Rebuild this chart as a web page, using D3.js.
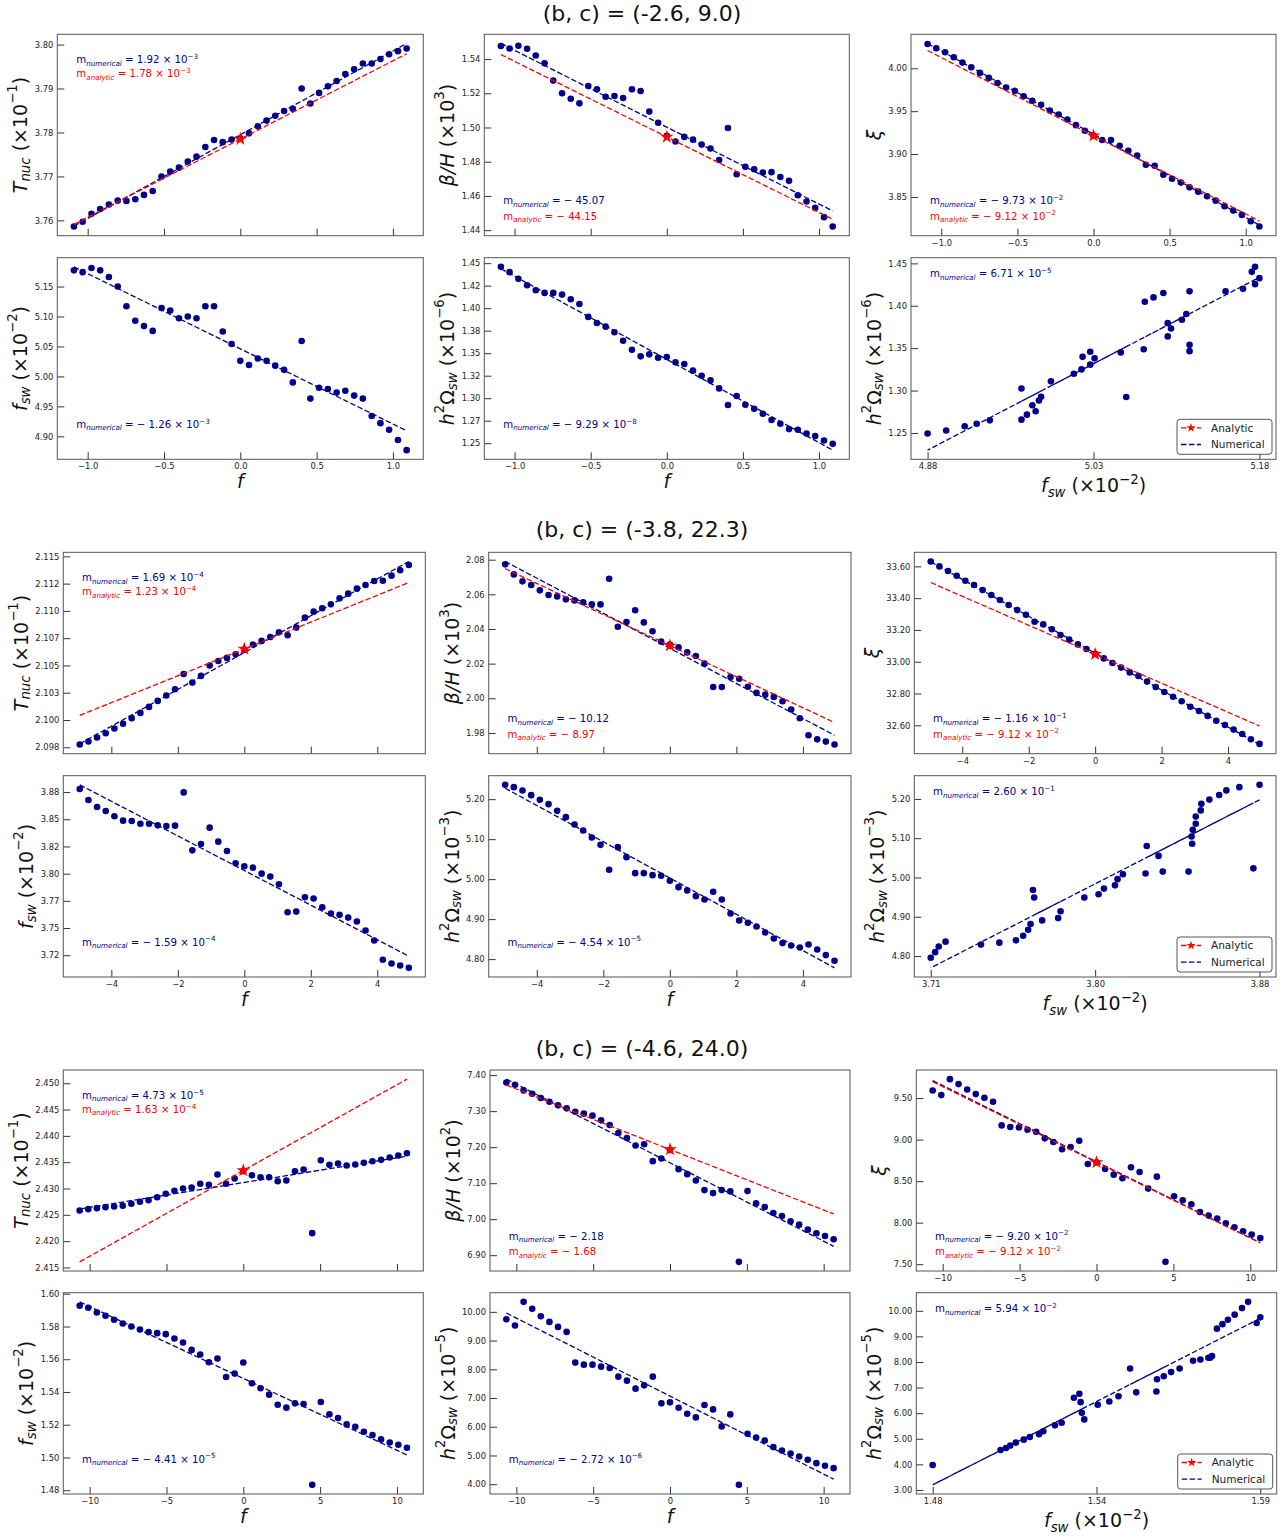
<!DOCTYPE html>
<html>
<head>
<meta charset="utf-8">
<script src="https://cdn.jsdelivr.net/npm/d3@7"></script>
<style>
  body { margin: 0; background: #fff; }
  svg { display: block; font-family: "DejaVu Sans", sans-serif; }
</style>
</head>
<body>
<svg id="chart" width="1286" height="1537"></svg>
<script>
// ---------- group 1 : (b, c) = (-2.6, 9.0) ----------
const g1Title = "(b, c) = (-2.6, 9.0)";
const g1F = [-1.090,-1.033,-0.975,-0.918,-0.861,-0.803,-0.746,-0.688,-0.631,-0.574,-0.516,-0.459,-0.402,-0.344,-0.287,-0.229,-0.172,-0.115,-0.057,0,0.057,0.115,0.172,0.229,0.287,0.344,0.402,0.459,0.516,0.574,0.631,0.688,0.746,0.803,0.861,0.918,0.975,1.033,1.090];
const g1Tnuc = [3.7586,3.7597,3.7615,3.7626,3.7636,3.7645,3.7644,3.7648,3.7658,3.7667,3.7700,3.7711,3.7720,3.7734,3.7745,3.7767,3.7783,3.7778,3.7784,3.7787,3.7798,3.7814,3.7827,3.7838,3.7849,3.7854,3.7900,3.7866,3.7890,3.7905,3.7917,3.7933,3.7944,3.7957,3.7957,3.7967,3.7978,3.7985,3.7991];
const g1Beta = [1.5476,1.5462,1.5478,1.5460,1.5421,1.5375,1.5274,1.5200,1.5168,1.5141,1.5242,1.5223,1.5180,1.5184,1.5172,1.5223,1.5213,1.5093,1.5028,1.4952,1.4918,1.4945,1.4929,1.4900,1.4877,1.4810,1.4997,1.4727,1.4770,1.4756,1.4737,1.4739,1.4711,1.4688,1.4604,1.4567,1.4530,1.4476,1.4421];
const g1Xi = [4.0283,4.0233,4.0186,4.0128,4.0066,4.0012,3.9946,3.9888,3.9829,3.9775,3.9736,3.9674,3.9620,3.9574,3.9508,3.9461,3.9403,3.9337,3.9271,3.9217,3.9163,3.9163,3.9097,3.9039,3.8984,3.8876,3.8864,3.8760,3.8713,3.8667,3.8612,3.8562,3.8508,3.8457,3.8391,3.8341,3.8291,3.8217,3.8155];
const g1Fsw = [5.177,5.174,5.181,5.177,5.166,5.150,5.117,5.093,5.084,5.076,5.114,5.110,5.097,5.100,5.097,5.117,5.117,5.075,5.054,5.026,5.019,5.030,5.026,5.018,5.011,4.990,5.059,4.963,4.981,4.979,4.973,4.976,4.968,4.963,4.934,4.922,4.911,4.894,4.877];
const g1Omega = [1.4459,1.4400,1.4326,1.4255,1.4200,1.4170,1.4170,1.4151,1.4099,1.4047,1.3903,1.3836,1.3795,1.3732,1.3639,1.3539,1.3465,1.3487,1.3450,1.3458,1.3398,1.3380,1.3306,1.3250,1.3198,1.3109,1.2924,1.3024,1.2927,1.2883,1.2827,1.2757,1.2716,1.2657,1.2649,1.2608,1.2579,1.2530,1.2493];
const g1Star = [3.7785, 1.4945, 3.9213];              // analytic values at f = 0 (Tnuc, beta/H, xi)
const g1NumSlope = [1.92e-3, -45.07, -9.73e-2, -1.26e-3, -9.29e-8, 6.71e-5];
const g1AnaSlope = [1.78e-3, -44.15, -9.12e-2];
const g1Exp = [-1, 3, 0, -2, -6];                       // axis multipliers: Tnuc, beta/H, xi, fsw, h2Omega
const g1FTicks = [-1, -0.5, 0, 0.5, 1];
const g1FLabels = ["−1.0", "−0.5", "0.0", "0.5", "1.0"];
const g1YTicks = [
  [3.76, 3.77, 3.78, 3.79, 3.80],
  [1.44, 1.46, 1.48, 1.50, 1.52, 1.54],
  [3.85, 3.90, 3.95, 4.00],
  [4.90, 4.95, 5.00, 5.05, 5.10, 5.15],
  [1.25, 1.275, 1.30, 1.325, 1.35, 1.375, 1.40, 1.425, 1.45],
  [1.25, 1.30, 1.35, 1.40, 1.45]
];
const g1YLabels = [
  ["3.76", "3.77", "3.78", "3.79", "3.80"],
  ["1.44", "1.46", "1.48", "1.50", "1.52", "1.54"],
  ["3.85", "3.90", "3.95", "4.00"],
  ["4.90", "4.95", "5.00", "5.05", "5.10", "5.15"],
  ["1.25", "1.27", "1.30", "1.32", "1.35", "1.38", "1.40", "1.42", "1.45"],
  ["1.25", "1.30", "1.35", "1.40", "1.45"]
];

// ---------- group 2 : (b, c) = (-3.8, 22.3) ----------
const g2Title = "(b, c) = (-3.8, 22.3)";
const g2F = [-4.950,-4.689,-4.429,-4.168,-3.908,-3.647,-3.387,-3.126,-2.866,-2.605,-2.345,-2.084,-1.824,-1.563,-1.303,-1.042,-0.782,-0.521,-0.261,0,0.261,0.521,0.782,1.042,1.303,1.563,1.824,2.084,2.345,2.605,2.866,3.126,3.387,3.647,3.908,4.168,4.429,4.689,4.950];
const g2Tnuc = [2.09775,2.09803,2.09839,2.09879,2.09922,2.09965,2.10017,2.10065,2.10120,2.10175,2.10224,2.10282,2.10422,2.10343,2.10404,2.10499,2.10541,2.10569,2.10603,2.10645,2.10691,2.10725,2.10761,2.10804,2.10777,2.10847,2.10938,2.10993,2.11024,2.11060,2.11115,2.11158,2.11204,2.11237,2.11274,2.11277,2.11323,2.11372,2.11421];
const g2Beta = [2.0773,2.0715,2.0675,2.0654,2.0623,2.0596,2.0588,2.0571,2.0565,2.0554,2.0542,2.0542,2.0690,2.0413,2.0440,2.0508,2.0438,2.0387,2.0327,2.0310,2.0294,2.0265,2.0244,2.0200,2.0065,2.0065,2.0123,2.0113,2.0067,2.0031,2.0021,2.0008,1.9983,1.9935,1.9885,1.9787,1.9763,1.9750,1.9733];
const g2Xi = [33.631,33.600,33.571,33.541,33.510,33.483,33.451,33.420,33.388,33.357,33.325,33.296,33.252,33.235,33.204,33.168,33.139,33.109,33.080,33.050,33.021,32.992,32.963,32.933,32.910,32.875,32.841,32.810,32.780,32.751,32.717,32.690,32.659,32.629,32.602,32.573,32.545,32.512,32.483];
const g2Fsw = [3.8778,3.8677,3.8612,3.8576,3.8527,3.8487,3.8484,3.8459,3.8459,3.8444,3.8438,3.8441,3.8747,3.8214,3.8273,3.8423,3.8294,3.8208,3.8095,3.8068,3.8055,3.8000,3.7973,3.7902,3.7645,3.7651,3.7783,3.7771,3.7691,3.7633,3.7621,3.7596,3.7560,3.7477,3.7385,3.7208,3.7174,3.7156,3.7134];
const g2Omega = [5.2358,5.2300,5.2217,5.2100,5.1983,5.1875,5.1708,5.1550,5.1367,5.1217,5.1042,5.0858,5.0233,5.0800,5.0550,5.0150,5.0150,5.0100,5.0083,4.9958,4.9800,4.9717,4.9575,4.9492,4.9683,4.9492,4.9142,4.8967,4.8908,4.8817,4.8667,4.8517,4.8400,4.8342,4.8292,4.8367,4.8242,4.8100,4.7958];
const g2Star = [2.10651, 2.0304, 33.047];
const g2NumSlope = [1.69e-4, -10.12, -1.16e-1, -1.59e-4, -4.54e-5, 2.60e-1];
const g2AnaSlope = [1.23e-4, -8.97, -9.12e-2];
const g2Exp = [-1, 3, 0, -2, -3];
const g2FTicks = [-4, -2, 0, 2, 4];
const g2FLabels = ["−4", "−2", "0", "2", "4"];
const g2YTicks = [
  [2.0975, 2.1, 2.1025, 2.105, 2.1075, 2.11, 2.1125, 2.115],
  [1.98, 2.00, 2.02, 2.04, 2.06, 2.08],
  [32.6, 32.8, 33.0, 33.2, 33.4, 33.6],
  [3.725, 3.75, 3.775, 3.80, 3.825, 3.85, 3.875],
  [4.80, 4.90, 5.00, 5.10, 5.20],
  [4.80, 4.90, 5.00, 5.10, 5.20]
];
const g2YLabels = [
  ["2.098", "2.100", "2.103", "2.105", "2.107", "2.110", "2.112", "2.115"],
  ["1.98", "2.00", "2.02", "2.04", "2.06", "2.08"],
  ["32.60", "32.80", "33.00", "33.20", "33.40", "33.60"],
  ["3.72", "3.75", "3.77", "3.80", "3.82", "3.85", "3.88"],
  ["4.80", "4.90", "5.00", "5.10", "5.20"],
  ["4.80", "4.90", "5.00", "5.10", "5.20"]
];

// ---------- group 3 : (b, c) = (-4.6, 24.0) ----------
const g3Title = "(b, c) = (-4.6, 24.0)";
const g3F = [-10.650,-10.089,-9.529,-8.968,-8.408,-7.847,-7.287,-6.726,-6.166,-5.605,-5.045,-4.484,-3.924,-3.363,-2.803,-2.242,-1.682,-1.121,-0.561,0,0.561,1.121,1.682,2.242,2.803,3.363,3.924,4.484,5.045,5.605,6.166,6.726,7.287,7.847,8.408,8.968,9.529,10.089,10.650];
const g3Tnuc = [2.42582,2.42608,2.42627,2.42646,2.42658,2.42671,2.42709,2.42747,2.42778,2.42835,2.42899,2.42956,2.43000,2.43019,2.43089,2.43070,2.43266,2.43089,2.43190,2.43330,2.43253,2.43215,2.43215,2.43139,2.43152,2.43329,2.43361,2.42152,2.43538,2.43449,2.43475,2.43437,2.43456,2.43487,2.43519,2.43544,2.43589,2.43627,2.43671];
const g3Beta = [7.3797,7.3732,7.3576,7.3483,7.3363,7.3262,7.3161,7.3077,7.2985,7.2930,7.2875,7.2745,7.2616,7.2395,7.2256,7.2044,7.2081,7.1611,7.1685,7.1920,7.1389,7.1251,7.1076,7.0808,7.0725,7.0808,7.0771,6.8815,7.0780,7.0439,7.0338,7.0172,7.0089,6.9941,6.9849,6.9710,6.9609,6.9535,6.9443];
const g3Xi = [9.592,9.536,9.728,9.668,9.604,9.548,9.504,9.456,9.171,9.151,9.147,9.119,9.095,9.015,8.971,8.883,8.911,8.987,8.706,8.728,8.646,8.578,8.534,8.666,8.610,8.410,8.554,7.528,8.318,8.270,8.221,8.129,8.085,8.049,7.992,7.944,7.896,7.856,7.816];
const g3Fsw = [1.59265,1.59143,1.58857,1.58653,1.58408,1.58184,1.58000,1.57816,1.57653,1.57592,1.57531,1.57265,1.57020,1.56571,1.56286,1.55816,1.56041,1.54918,1.55122,1.55796,1.54531,1.54224,1.53837,1.53224,1.53041,1.53306,1.53265,1.48327,1.53388,1.52633,1.52408,1.52020,1.51878,1.51571,1.51367,1.51102,1.50918,1.50776,1.50592];
const g3Omega = [9.744,9.523,10.349,10.105,9.849,9.651,9.477,9.302,8.233,8.163,8.163,8.093,8.047,7.744,7.605,7.326,7.442,7.744,6.814,6.849,6.663,6.453,6.326,6.756,6.605,6.012,6.430,3.977,5.756,5.628,5.523,5.291,5.174,5.070,4.965,4.849,4.733,4.640,4.558];
const g3Star = [2.43342, 7.1934, 8.726];
const g3NumSlope = [4.73e-5, -2.18, -9.20e-2, -4.41e-5, -2.72e-6, 5.94e-2];
const g3AnaSlope = [1.63e-4, -1.68, -9.12e-2];
const g3Exp = [-1, 2, 0, -2, -5];
const g3FTicks = [-10, -5, 0, 5, 10];
const g3FLabels = ["−10", "−5", "0", "5", "10"];
const g3YTicks = [
  [2.415, 2.420, 2.425, 2.430, 2.435, 2.440, 2.445, 2.450],
  [6.90, 7.00, 7.10, 7.20, 7.30, 7.40],
  [7.50, 8.00, 8.50, 9.00, 9.50],
  [1.48, 1.50, 1.52, 1.54, 1.56, 1.58, 1.60],
  [4, 5, 6, 7, 8, 9, 10],
  [3, 4, 5, 6, 7, 8, 9, 10]
];
const g3YLabels = [
  ["2.415", "2.420", "2.425", "2.430", "2.435", "2.440", "2.445", "2.450"],
  ["6.90", "7.00", "7.10", "7.20", "7.30", "7.40"],
  ["7.50", "8.00", "8.50", "9.00", "9.50"],
  ["1.48", "1.50", "1.52", "1.54", "1.56", "1.58", "1.60"],
  ["4.00", "5.00", "6.00", "7.00", "8.00", "9.00", "10.00"],
  ["3.00", "4.00", "5.00", "6.00", "7.00", "8.00", "9.00", "10.00"]
];

// ---------- page layout (panel boxes in px) ----------
const layout = [
  { cols: [[57.3, 423.3], [484.3, 849.3], [911, 1276]], rows: [[34.3, 235.7], [257.7, 459.3]], titleY: 20.7 },
  { cols: [[63.3, 425.3], [488.7, 851], [914.3, 1276]], rows: [[552.3, 753.7], [775.7, 977]], titleY: 536.5 },
  { cols: [[63.3, 423.3], [490, 850], [916.3, 1276.7]], rows: [[1070, 1271], [1292.7, 1494]], titleY: 1055.7 }
];

const NAVY = "#00008b", RED = "#ff0000";
const svg = d3.select("#chart");

const sup = e => (e < 0 ? "−" + (-e) : String(e));
const labels = {
  tnuc: e => [{ t: "T", it: 1 }, { t: "nuc", it: 1, sub: 1 }, " (×10", { t: sup(e), sup: 1 }, ")"],
  beta: e => [{ t: "β/H", it: 1 }, " (×10", { t: sup(e), sup: 1 }, ")"],
  xi: () => [{ t: "ξ", it: 1 }],
  fsw: e => [{ t: "f", it: 1 }, { t: "sw", it: 1, sub: 1 }, " (×10", { t: sup(e), sup: 1 }, ")"],
  omega: e => [{ t: "h", it: 1 }, { t: "2", sup: 1 }, "Ω", { t: "sw", it: 1, sub: 1 }, " (×10", { t: sup(e), sup: 1 }, ")"]
};

function buildPanels(f, tnuc, beta, xi, fsw, omega, star, num, ana, exp, fT, fL, yT, yL) {
  const base = (o) => Object.assign({ fx: fT, fl: fL }, o);
  return [
    base({ col: 0, row: 0, x: f, y: tnuc, yt: yT[0], yl: yL[0], lab: labels.tnuc(exp[0]), num: num[0], ana: ana[0], star: star[0], anaSlope: ana[0] / 10 ** exp[0], txt: "top", showX: false }),
    base({ col: 1, row: 0, x: f, y: beta, yt: yT[1], yl: yL[1], lab: labels.beta(exp[1]), num: num[1], ana: ana[1], star: star[1], anaSlope: ana[1] / 10 ** exp[1], txt: "bottom", showX: false }),
    base({ col: 2, row: 0, x: f, y: xi, yt: yT[2], yl: yL[2], lab: labels.xi(), num: num[2], ana: ana[2], star: star[2], anaSlope: ana[2] / 10 ** exp[2], txt: "bottom", showX: true }),
    base({ col: 0, row: 1, x: f, y: fsw, yt: yT[3], yl: yL[3], lab: labels.fsw(exp[3]), num: num[3], txt: "bottom", showX: true, xlab: [{ t: "f", it: 1 }] }),
    base({ col: 1, row: 1, x: f, y: omega, yt: yT[4], yl: yL[4], lab: labels.omega(exp[4]), num: num[4], txt: "bottom", showX: true, xlab: [{ t: "f", it: 1 }] }),
    { col: 2, row: 1, x: fsw, y: omega, yt: yT[5], yl: yL[5], lab: labels.omega(exp[4]), num: num[5], txt: "top", showX: true,
      xlab: labels.fsw(exp[3]), legend: true, extentTicks: true }
  ];
}

const groups = [
  { title: g1Title, panels: buildPanels(g1F, g1Tnuc, g1Beta, g1Xi, g1Fsw, g1Omega, g1Star, g1NumSlope, g1AnaSlope, g1Exp, g1FTicks, g1FLabels, g1YTicks, g1YLabels) },
  { title: g2Title, panels: buildPanels(g2F, g2Tnuc, g2Beta, g2Xi, g2Fsw, g2Omega, g2Star, g2NumSlope, g2AnaSlope, g2Exp, g2FTicks, g2FLabels, g2YTicks, g2YLabels) },
  { title: g3Title, panels: buildPanels(g3F, g3Tnuc, g3Beta, g3Xi, g3Fsw, g3Omega, g3Star, g3NumSlope, g3AnaSlope, g3Exp, g3FTicks, g3FLabels, g3YTicks, g3YLabels) }
];

// ---------- helpers ----------
function rich(text, segs, size) {
  let cur = 0;
  segs.forEach(s => {
    if (typeof s === "string") s = { t: s };
    const small = s.sub || s.sup;
    const off = s.sub ? 0.24 * size : s.sup ? -0.42 * size : 0;
    text.append("tspan")
      .attr("dy", off - cur)
      .style("font-size", (small ? size * 0.7 : size) + "px")
      .style("font-style", s.it ? "italic" : "normal")
      .text(s.t);
    cur = off;
  });
  return text;
}

function linFit(xs, ys) {
  const mx = d3.mean(xs), my = d3.mean(ys);
  const b = d3.sum(xs, (x, i) => (x - mx) * (ys[i] - my)) / d3.sum(xs, x => (x - mx) ** 2);
  return { a: my - b * mx, b };
}

function padded(ext) {
  const d = (ext[1] - ext[0]) * 0.05;
  return [ext[0] - d, ext[1] + d];
}

function slopeSegs(name, v) {
  const a = Math.abs(v), sign = v < 0 ? "− " : "";
  const head = [{ t: "m" }, { t: name, it: 1, sub: 1 }];
  if (a >= 1) return head.concat([" = " + sign + a.toFixed(2)]);
  const e = Math.floor(Math.log10(a) + 1e-9);
  return head.concat([" = " + sign + (a / 10 ** e).toFixed(2) + " × 10", { t: sup(e), sup: 1 }]);
}

const starSym = d3.symbol().type(d3.symbolStar);

function drawPanel(p, L) {
  const box = { l: L.cols[p.col][0], r: L.cols[p.col][1], t: L.rows[p.row][0], b: L.rows[p.row][1] };
  const fit = linFit(p.x, p.y);
  const fitY = p.x.map(v => fit.a + fit.b * v);
  let all = p.y.concat(fitY);
  let anaY = null;
  if (p.star != null) {
    anaY = p.x.map(v => p.star + p.anaSlope * v);
    all = all.concat(anaY, [p.star]);
  }
  const xExt = d3.extent(p.x);
  const x = d3.scaleLinear().domain(padded(xExt)).range([box.l, box.r]);
  const y = d3.scaleLinear().domain(padded(d3.extent(all))).range([box.b, box.t]);

  const g = svg.append("g");
  g.append("rect").attr("x", box.l).attr("y", box.t).attr("width", box.r - box.l).attr("height", box.b - box.t).attr("fill", "#fff");

  g.append("g").selectAll("circle").data(p.x).join("circle")
    .attr("cx", d => x(d)).attr("cy", (d, i) => y(p.y[i])).attr("r", 3.3).attr("fill", NAVY);

  const line = d3.line().x(d => x(d[0])).y(d => y(d[1]));
  g.append("path").attr("d", line(p.x.map((v, i) => [v, fitY[i]])))
    .attr("fill", "none").attr("stroke", NAVY).attr("stroke-width", 1.3).attr("stroke-dasharray", "5.5,2.4");
  if (anaY) {
    g.append("path").attr("d", line(p.x.map((v, i) => [v, anaY[i]])))
      .attr("fill", "none").attr("stroke", RED).attr("stroke-width", 1.3).attr("stroke-dasharray", "5.5,2.4");
    g.append("path").attr("d", starSym.size(58)()).attr("transform", `translate(${x(0)},${y(p.star)})`).attr("fill", RED);
  }

  // axes, ticks pointing inwards
  const xt = p.extentTicks ? [xExt[0], (xExt[0] + xExt[1]) / 2, xExt[1]] : p.fx;
  const xl = p.extentTicks ? xt.map(v => v.toFixed(2)) : p.fl;
  const yAx = g.append("g").attr("transform", `translate(${box.l},0)`)
    .call(d3.axisLeft(y).tickValues(p.yt).tickFormat((d, i) => p.yl[i]).tickSizeInner(-7).tickSizeOuter(0).tickPadding(4));
  const xAx = g.append("g").attr("transform", `translate(0,${box.b})`)
    .call(d3.axisBottom(x).tickValues(xt).tickFormat((d, i) => (p.showX ? xl[i] : "")).tickSizeInner(-7).tickSizeOuter(0).tickPadding(4));
  [yAx, xAx].forEach(a => {
    a.select(".domain").remove();
    a.attr("font-size", null).attr("font-family", null);
    a.selectAll("line").attr("stroke", "#333").attr("stroke-width", 1);
    a.selectAll("text").attr("fill", "#222").style("font-size", "8.4px");
  });
  g.append("rect").attr("x", box.l).attr("y", box.t).attr("width", box.r - box.l).attr("height", box.b - box.t)
    .attr("fill", "none").attr("stroke", "#555").attr("stroke-width", 1);

  // y label
  const maxW = d3.max(yAx.selectAll("text").nodes(), n => n.getComputedTextLength());
  const cx = box.l - 4 - maxW - 14.5, cy = (box.t + box.b) / 2;
  rich(g.append("text").attr("transform", `translate(${cx},${cy}) rotate(-90)`)
    .attr("text-anchor", "middle").attr("dominant-baseline", "central").attr("fill", "#111"), p.lab, 19);

  // x label
  if (p.xlab) {
    rich(g.append("text").attr("x", (box.l + box.r) / 2).attr("y", box.b + (p.col === 2 ? 33 : 29))
      .attr("text-anchor", "middle").attr("fill", "#111"), p.xlab, 19);
  }

  // slope annotations
  const h = box.b - box.t, tx = box.l + 0.052 * (box.r - box.l);
  let yNum, yAna;
  if (p.txt === "top") {
    yNum = box.t + (p.ana != null ? 0.128 : 0.082) * h;
    yAna = box.t + 0.198 * h;
  } else {
    yNum = box.b - 0.172 * h;
    yAna = box.b - 0.095 * h;
  }
  rich(g.append("text").attr("x", tx).attr("y", yNum + 3.2).attr("fill", NAVY), slopeSegs("numerical", p.num), 10.2);
  if (p.ana != null) {
    rich(g.append("text").attr("x", tx).attr("y", yAna + 3.2).attr("fill", RED), slopeSegs("analytic", p.ana), 10.2);
  }

  // legend
  if (p.legend) {
    const lw = 95, lh = 35, lx = box.r - 4 - lw, ly = box.b - 5 - lh;
    const lg = g.append("g");
    lg.append("rect").attr("x", lx).attr("y", ly).attr("width", lw).attr("height", lh).attr("rx", 3)
      .attr("fill", "#fff").attr("stroke", "#444").attr("stroke-width", 0.9);
    const entries = [{ name: "Analytic", color: RED, star: true }, { name: "Numerical", color: NAVY, star: false }];
    entries.forEach((e, i) => {
      const ry = ly + 8.5 + i * 16.7;
      lg.append("line").attr("x1", lx + 4).attr("x2", lx + 24).attr("y1", ry).attr("y2", ry)
        .attr("stroke", e.color).attr("stroke-width", 1.3).attr("stroke-dasharray", "5.5,2.4");
      if (e.star) lg.append("path").attr("d", starSym.size(26)()).attr("transform", `translate(${lx + 14},${ry})`).attr("fill", e.color);
      lg.append("text").attr("x", lx + 34).attr("y", ry + 3.8).attr("fill", "#222").style("font-size", "10.5px").text(e.name);
    });
  }
}

groups.forEach((G, gi) => {
  const L = layout[gi];
  svg.append("text").attr("x", 642).attr("y", L.titleY).attr("text-anchor", "middle")
    .attr("fill", "#111").style("font-size", "22px").text(G.title);
  G.panels.forEach(p => drawPanel(p, L));
});
</script>
</body>
</html>
